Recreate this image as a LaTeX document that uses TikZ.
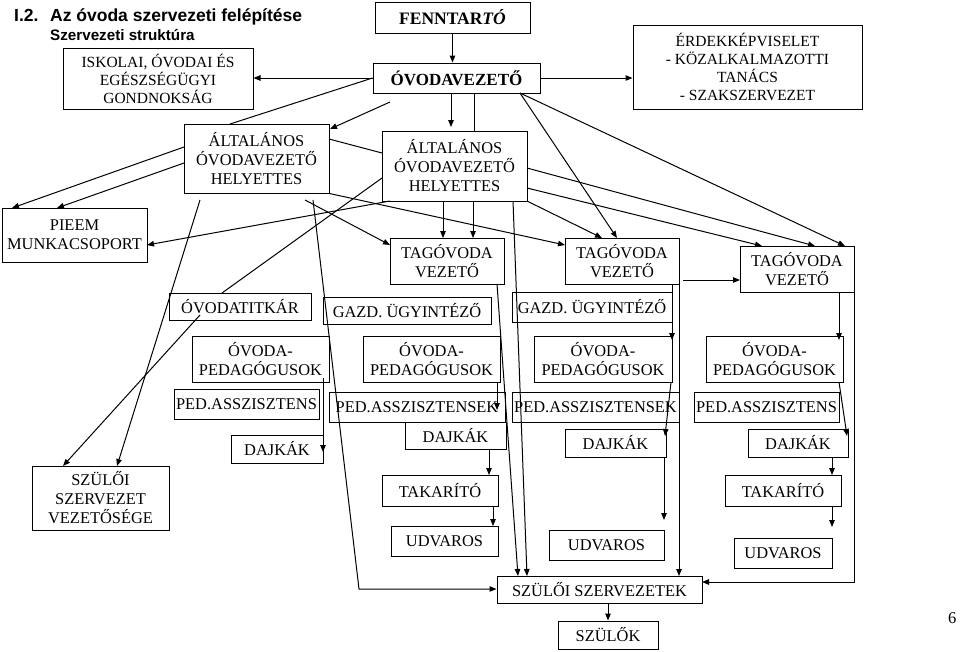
\documentclass[tikz,border=0pt]{standalone}
\usepackage{fontspec}
\setmainfont{Liberation Serif}
\newfontfamily\arialf{Liberation Sans}
\usetikzlibrary{arrows.meta}
\begin{document}
\begin{tikzpicture}[x=1pt,y=-1pt,
  box/.style={draw,line width=1pt,inner sep=0pt,align=center,font=\fontsize{16.4}{19}\selectfont},
  sbox/.style={box,font=\fontsize{15.5}{18}\selectfont},
  ar/.style={-{Triangle[length=7pt,width=5.5pt]},line width=1pt},
  ln/.style={line width=1pt}]
\useasboundingbox (0,0) rectangle (960,651);

% title
\node[anchor=base west,inner sep=0pt,font=\arialf\bfseries\fontsize{17.5}{20}\selectfont] (tnum) at (14,21) {I.2.};
\node[anchor=base west,inner sep=0pt,font=\arialf\bfseries\fontsize{17.5}{20}\selectfont] (ttl) at (50,21) {Az óvoda szervezeti felépítése};
\node[anchor=base west,inner sep=0pt,font=\arialf\bfseries\fontsize{15.2}{18}\selectfont] (sttl) at (50,40) {Szervezeti struktúra};
\node[anchor=base west,inner sep=0pt,font=\fontsize{16.5}{18}\selectfont] (pnum) at (948,623) {6};

% boxes
\node[box,minimum width=155pt,minimum height=31pt,font=\bfseries\fontsize{17.5}{19}\selectfont] (fenn) at (452.5,17.5) {FENNTAR\textit{TÓ}};
\node[box,minimum width=167pt,minimum height=30pt,font=\bfseries\fontsize{17}{19}\selectfont] (ovez) at (456.5,78) {ÓVODAVEZETŐ};
\node[sbox,minimum width=190pt,minimum height=61pt] (gond) at (158,78.5) {ISKOLAI, ÓVODAI ÉS\\EGÉSZSÉGÜGYI\\GONDNOKSÁG};
\node[sbox,minimum width=229pt,minimum height=84pt] (erdek) at (747.5,67) {ÉRDEKKÉPVISELET\\- KÖZALKALMAZOTTI\\TANÁCS\\- SZAKSZERVEZET};
\node[box,minimum width=145pt,minimum height=69pt] (aoh1) at (256.5,158.5) {ÁLTALÁNOS\\ÓVODAVEZETŐ\\HELYETTES};
\node[box,minimum width=145pt,minimum height=70pt] (aoh2) at (454.5,166) {ÁLTALÁNOS\\ÓVODAVEZETŐ\\HELYETTES};
\node[box,minimum width=145pt,minimum height=54pt] (pieem) at (74.5,235) {PIEEM\\MUNKACSOPORT};
\node[box,minimum width=114pt,minimum height=46pt] (tag1) at (447,261) {TAGÓVODA\\VEZETŐ};
\node[box,minimum width=114pt,minimum height=46pt] (tag2) at (622,261) {TAGÓVODA\\VEZETŐ};
\node[box,minimum width=114pt,minimum height=46pt] (tag3) at (797,269) {TAGÓVODA\\VEZETŐ};
\node[box,minimum width=142pt,minimum height=27pt] (titk) at (240,306.5) {ÓVODATITKÁR};
\node[box,minimum width=168pt,minimum height=27pt] (gazd1) at (407,310.5) {GAZD. ÜGYINTÉZŐ};
\node[box,minimum width=160pt,minimum height=30pt] (gazd2) at (592,307) {GAZD. ÜGYINTÉZŐ};
\node[box,minimum width=137pt,minimum height=46pt] (ped1) at (260.5,359) {ÓVODA-\\PEDAGÓGUSOK};
\node[box,minimum width=137pt,minimum height=46pt] (ped2) at (431.5,359) {ÓVODA-\\PEDAGÓGUSOK};
\node[box,minimum width=138pt,minimum height=46pt] (ped3) at (603,359) {ÓVODA-\\PEDAGÓGUSOK};
\node[box,minimum width=137pt,minimum height=46pt] (ped4) at (774.5,359) {ÓVODA-\\PEDAGÓGUSOK};
\node[box,minimum width=145pt,minimum height=30pt] (pa1) at (246.5,404) {PED.ASSZISZTENS};
\node[box,minimum width=176pt,minimum height=30pt] (pa2) at (417,407) {PED.ASSZISZTENSEK};
\node[box,minimum width=167pt,minimum height=30pt] (pa3) at (595.5,407) {PED.ASSZISZTENSEK};
\node[box,minimum width=145pt,minimum height=30pt] (pa4) at (766.5,407) {PED.ASSZISZTENS};
\node[box,minimum width=92pt,minimum height=28pt] (dajk1) at (277,449) {DAJKÁK};
\node[box,minimum width=101pt,minimum height=27pt] (dajk2) at (455.5,435.5) {DAJKÁK};
\node[box,minimum width=101pt,minimum height=28pt] (dajk3) at (615.5,443) {DAJKÁK};
\node[box,minimum width=100pt,minimum height=28pt] (dajk4) at (798,443) {DAJKÁK};
\node[box,minimum width=116pt,minimum height=31pt] (tak1) at (440,490.5) {TAKARÍTÓ};
\node[box,minimum width=116pt,minimum height=31pt] (tak2) at (783,490.5) {TAKARÍTÓ};
\node[box,minimum width=107pt,minimum height=30pt] (udv1) at (444.5,541) {UDVAROS};
\node[box,minimum width=115pt,minimum height=30pt] (udv2) at (606.5,545) {UDVAROS};
\node[box,minimum width=98pt,minimum height=30pt] (udv3) at (783,553) {UDVAROS};
\node[box,minimum width=205pt,minimum height=27pt] (szsz) at (599.5,589.5) {SZÜLŐI SZERVEZETEK};
\node[box,minimum width=100pt,minimum height=28pt] (szulok) at (608,635) {SZÜLŐK};
\node[box,minimum width=137pt,minimum height=64pt] (szszv) at (100.5,498) {SZÜLŐI\\SZERVEZET\\VEZETŐSÉGE};

% connector end points
\coordinate (c4) at (451,127);
\coordinate (c5) at (474,131);
\coordinate (c6) at (230,124);
\coordinate (c7a) at (390,102);
\coordinate (c7b) at (330,129);
\coordinate (ov1) at (520,93);
\coordinate (t2a) at (617,238);
\coordinate (t3c) at (845,246);
\coordinate (a1l1) at (184,147); \coordinate (pi1) at (12,208);
\coordinate (a1l2) at (184,163); \coordinate (pi2) at (57,208);
\coordinate (a1r) at (329,139); \coordinate (a2l) at (382,153);
\coordinate (t2l) at (565,245);
\coordinate (s1) at (200,200); \coordinate (v1) at (117,466);
\coordinate (ti1) at (200,315); \coordinate (v2) at (63,466);
\coordinate (ti2) at (222,293); \coordinate (a2l2) at (382,178);
\coordinate (a2b) at (390,201); \coordinate (pi3) at (147,245);
\coordinate (s2) at (305,200); \coordinate (t1l) at (390,245);
\coordinate (s3) at (313,200); \coordinate (k3) at (359,589);
\coordinate (a2b2) at (513,201); \coordinate (z1) at (527,576);
\coordinate (t1b) at (497,284); \coordinate (z2) at (518,576);
\coordinate (a2b3) at (443,201); \coordinate (t1a) at (443,238);
\coordinate (a2b4) at (473,201); \coordinate (t1b2) at (473,238);
\coordinate (a2r1) at (527,168); \coordinate (t3b) at (815,246);
\coordinate (a2r2) at (527,188); \coordinate (t3a) at (762,246);
\coordinate (a2r3) at (527,201); \coordinate (t2b) at (602,238);
\coordinate (t2r) at (683,280); \coordinate (t3l) at (740,280);
\coordinate (t2s) at (672,284); \coordinate (p3t) at (672,340);
\coordinate (t2e) at (679,284); \coordinate (z3) at (679,576);
\coordinate (p1b) at (323,378); \coordinate (d1r) at (323,452);
\coordinate (p2b) at (497,382); \coordinate (q2) at (497,410);
\coordinate (d2b) at (489,449); \coordinate (k1t) at (489,475);
\coordinate (k1b) at (493,506); \coordinate (u1t) at (493,526);
\coordinate (p3b) at (671,382); \coordinate (d3t) at (665,436);
\coordinate (d3b) at (664,457); \coordinate (u2t) at (664,520);
\coordinate (t3s) at (839,292); \coordinate (p4t) at (839,340);
\coordinate (t3e) at (854,292); \coordinate (k4) at (854,582); \coordinate (z4) at (702,582);
\coordinate (p4b) at (839,382); \coordinate (d4t) at (847,436);
\coordinate (d4b) at (832,457); \coordinate (k2t) at (832,475);
\coordinate (k2b) at (832,506); \coordinate (u3t) at (832,527);

% connectors
\draw[ar] (ovez.west) -- (ovez.west -| gond.east);
\draw[ar] (ovez.east) -- (ovez.east -| erdek.west);
\draw[ar] (fenn.south) -- (fenn.south |- ovez.north);
\draw[ar] (c4 |- ovez.south) -- (c4);
\draw[ln] (c5 |- ovez.south) -- (c5);
\draw[ln] (ovez.west) -- (c6);
\draw[ar] (c7a) -- (c7b);
\draw[ar] (ov1) -- (t2a);
\draw[ar] (ov1) -- (t3c);
\draw[ar] (a1l1) -- (pi1);
\draw[ar] (a1l2) -- (pi2);
\draw[ln] (a1r) -- (a2l);
\draw[ar] (aoh1.south east) -- (t2l);
\draw[ar] (s1) -- (v1);
\draw[ar] (ti1) -- (v2);
\draw[ln] (ti2) -- (a2l2);
\draw[ar] (a2b) -- (pi3);
\draw[ar] (s2) -- (t1l);
\draw[ar] (s3) -- (k3) -- (k3 -| szsz.west);
\draw[ar] (a2b2) -- (z1);
\draw[ar] (t1b) -- (z2);
\draw[ar] (a2b3) -- (t1a);
\draw[ar] (a2b4) -- (t1b2);
\draw[ar] (a2r1) -- (t3b);
\draw[ar] (a2r2) -- (t3a);
\draw[ar] (a2r3) -- (t2b);
\draw[ar] (t2r) -- (t3l);
\draw[ar] (t2s) -- (p3t);
\draw[ar] (t2e) -- (z3);
\draw[ar] (p1b) -- (d1r);
\draw[ar] (p2b) -- (q2);
\draw[ar] (d2b) -- (k1t);
\draw[ar] (k1b) -- (u1t);
\draw[ar] (p3b) -- (d3t);
\draw[ar] (d3b) -- (u2t);
\draw[ar] (t3s) -- (p4t);
\draw[ar] (t3e) -- (k4) -- (z4);
\draw[ar] (p4b) -- (d4t);
\draw[ar] (d4b) -- (k2t);
\draw[ar] (k2b) -- (u3t);
\draw[ar] (szsz.south -| szulok.north) -- (szulok.north);
\end{tikzpicture}
\end{document}
